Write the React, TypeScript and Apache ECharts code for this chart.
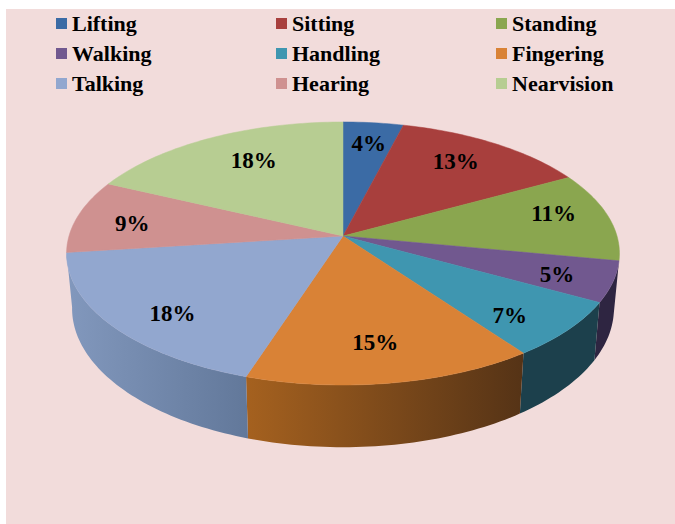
import React, { useEffect, useRef } from "react";
import * as echarts from "echarts";

// Slices, clockwise from twelve o'clock
const categories = ["Lifting", "Sitting", "Standing", "Walking", "Handling", "Fingering", "Talking", "Hearing", "Nearvision"];
const shares = [4, 13, 11, 5, 7, 15, 18, 9, 18];
const topColors = ["#3b6ba5", "#a83f3d", "#8aa64f", "#71588f", "#3f96b0", "#d98236", "#92a7cf", "#cf9190", "#b7cd92"];
const sideLeftColors = ["#2a4d78", "#7a2e2c", "#64793a", "#2e2541", "#1c404c", "#a5611f", "#8298bd", "#96696a", "#85956a"];
const sideRightColors = ["#2a4d78", "#7a2e2c", "#64793a", "#2e2541", "#1c404c", "#553316", "#62789a", "#96696a", "#85956a"];
const legendColumns = [
  ["Lifting", "Walking", "Talking"],
  ["Sitting", "Handling", "Hearing"],
  ["Standing", "Fingering", "Nearvision"],
];

// Pie hub, plan radii and perspective strength
const hubX = 343;
const hubY = 236;
const radiusX = 274;
const radiusY = 129.2;
const perspective = 0.133;
const labelReach = [0.8, 0.73, 0.78, 0.8, 0.77, 0.74, 0.76, 0.78, 0.7];
const labelNudge = [[1, 0], [-1, -5], [3, -7], [0, 2], [-3, 9], [-3, 2], [1, 11], [-3, 3], [6, -5]];
const labelFont = "Liberation Serif";

const project = (turn: number, reach = 1): [number, number] => {
  const a = turn * 2 * Math.PI;
  const u = reach * Math.sin(a);
  const v = reach * Math.cos(a);
  const d = 1 + perspective * v;
  return [hubX + (radiusX * u) / d, hubY - (radiusY * v) / d];
};

// The base rim sits lower and slightly narrower than the top rim
const dropToBase = ([x, y]: [number, number]): [number, number] => [
  hubX + 0.98 * (x - hubX),
  y + 54 + 0.055 * (y - hubY),
];

const total = shares.reduce((s, v) => s + v, 0);
const startOf = (i: number) => shares.slice(0, i).reduce((s, v) => s + v, 0) / total;

const rim = (i: number, value: number) => {
  const from = startOf(i);
  const to = from + value / total;
  const steps = Math.max(4, Math.ceil(value * 3));
  const pts: [number, number][] = [];
  for (let k = 0; k <= steps; k++) pts.push(project(from + ((to - from) * k) / steps));
  return pts;
};

export default function App() {
  const ref = useRef<HTMLDivElement>(null);
  useEffect(() => {
    document.body.style.margin = "0";
    const chart = echarts.init(ref.current!, null, { renderer: "svg" });

    const sideSeries = {
      type: "custom",
      name: "sides",
      coordinateSystem: "none",
      z: 1,
      silent: true,
      data: shares.map((v) => [v]),
      renderItem: (params: any, api: any) => {
        const i = params.dataIndex;
        const value = api.value(0);
        // Only slices on the near half of the pie show an outer wall
        const mid = startOf(i) + value / total / 2;
        if (Math.cos(mid * 2 * Math.PI) > -perspective) return null;
        const top = rim(i, value);
        const base = top.map(dropToBase).reverse();
        const pts = [...top, ...base];
        const xs = pts.map((p) => p[0]);
        return {
          type: "polygon",
          shape: { points: pts },
          style: {
            fill: new echarts.graphic.LinearGradient(
              Math.min(...xs), 0, Math.max(...xs), 0,
              [
                { offset: 0, color: sideLeftColors[i] },
                { offset: 1, color: sideRightColors[i] },
              ],
              true,
            ),
          },
        };
      },
    };

    const faceSeries = categories.map((name, i) => ({
      type: "custom",
      name,
      coordinateSystem: "none",
      z: 2,
      silent: true,
      itemStyle: { color: topColors[i] },
      data: [[shares[i]]],
      renderItem: (_p: any, api: any) => ({
        type: "polygon",
        shape: { points: [[hubX, hubY], ...rim(i, api.value(0))] },
        style: { fill: topColors[i], stroke: topColors[i], lineWidth: 0.5 },
      }),
    }));

    const labelSeries = {
      type: "custom",
      name: "percent labels",
      coordinateSystem: "none",
      z: 3,
      silent: true,
      data: shares.map((v) => [v]),
      renderItem: (params: any, api: any) => {
        const i = params.dataIndex;
        const value = api.value(0);
        const [x, y] = project(startOf(i) + value / total / 2, labelReach[i]);
        return {
          type: "text",
          x: x + labelNudge[i][0],
          y: y + labelNudge[i][1],
          style: {
            text: `${value}%`,
            fill: "#000",
            font: `bold 23px "${labelFont}"`,
            align: "center",
            verticalAlign: "middle",
          },
        };
      },
    };

    chart.setOption({
      animation: false,
      backgroundColor: "#ffffff",
      graphic: [
        { type: "rect", z: -1, shape: { x: 6, y: 9, width: 669, height: 515 }, style: { fill: "#f2dcdb" } },
      ],
      legend: [56, 276, 496].map((left, c) => ({
        left,
        top: 11,
        orient: "vertical",
        data: legendColumns[c],
        icon: "rect",
        itemWidth: 11,
        itemHeight: 11,
        itemGap: 5,
        padding: 0,
        selectedMode: false,
        textStyle: { fontFamily: labelFont, fontWeight: "bold", fontSize: 22, color: "#000", lineHeight: 25 },
      })),
      series: [sideSeries, ...faceSeries, labelSeries],
    });
    return () => chart.dispose();
  }, []);
  return <div ref={ref} style={{ width: 675, height: 524 }} />;
}
